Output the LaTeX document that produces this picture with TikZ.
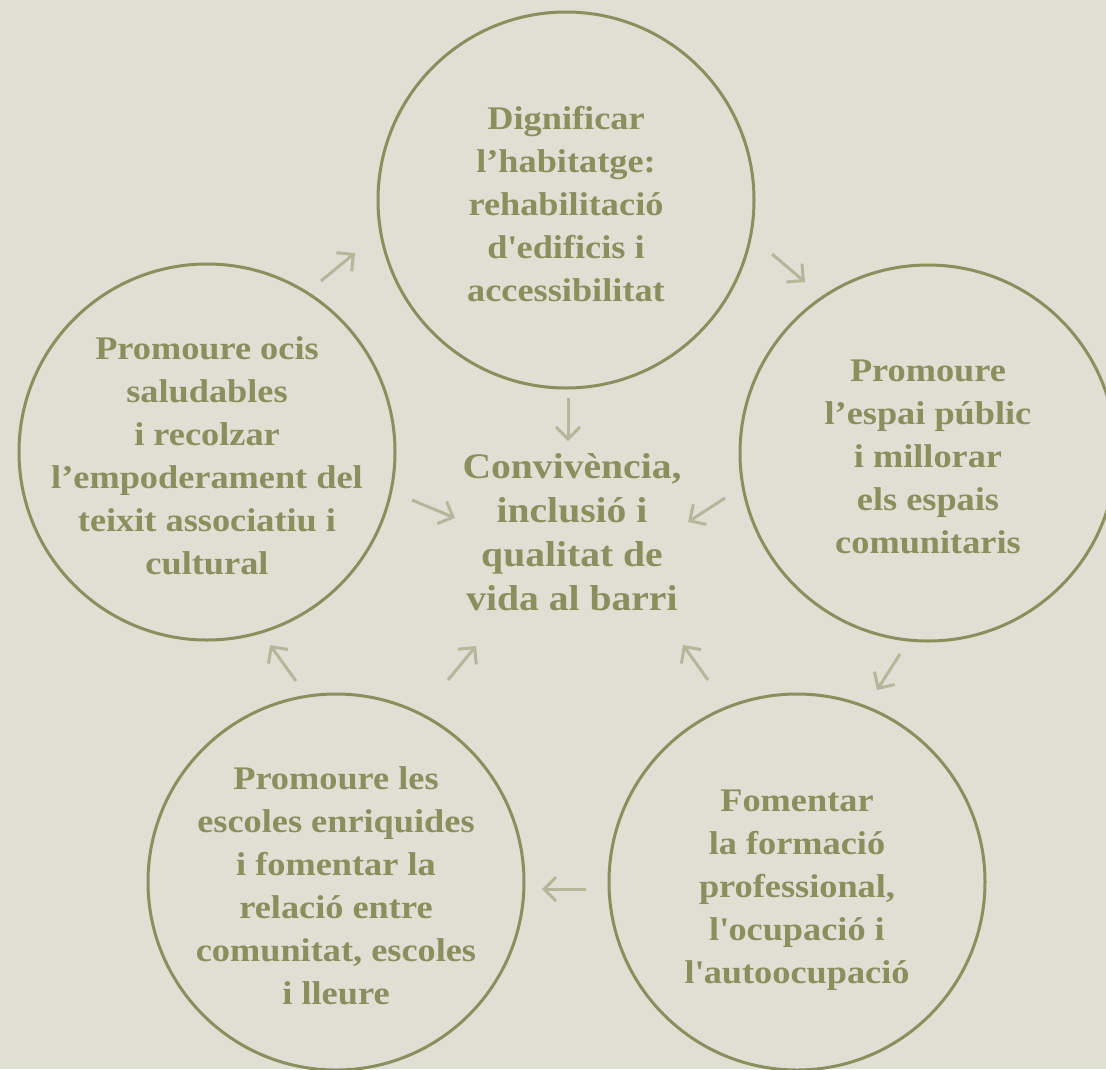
\documentclass[tikz,border=0pt]{standalone}
\usepackage{fontspec}
\usepackage{tikz}
\usetikzlibrary{arrows.meta,positioning,calc}
\newfontfamily\diagfont{Liberation Serif}[FakeStretch=1.1]
\definecolor{bgsand}{HTML}{DFDFD3}
\definecolor{olive}{HTML}{8A8F5E}
\definecolor{paleolive}{HTML}{B4B79B}

\begin{document}
\begin{tikzpicture}[x=1pt,y=-1pt,
    goal/.style={circle,draw=olive,line width=3pt,minimum size=376pt,inner sep=0pt},
    goaltext/.style={text=olive,align=center,inner sep=0pt,yshift=-4pt,
      font=\diagfont\bfseries\fontsize{33}{43}\selectfont},
    core/.style={text=olive,align=center,font=\diagfont\bfseries\fontsize{36}{44}\selectfont},
    flow/.style={draw=paleolive,line width=3pt,-{Straight Barb[length=12pt,width=24pt]}}]
    \fill[bgsand] (0,0) rectangle (1106,1069);
    \useasboundingbox (0,0) rectangle (1106,1069);
    % the five circles
    \node[goal] (house) at (566,200) {};
    \node[goal] (leisure) at (207,452) {};
    \node[goal] (public) at (928,453) {};
    \node[goal] (school) at (336,882) {};
    \node[goal] (work) at (797,882) {};
    % their texts
    \node[goaltext] (house text) at (house) {Dignificar\\l’habitatge:\\rehabilitació\\d\textquotesingle edificis i\\accessibilitat};
    \node[goaltext] (leisure text) at (leisure) {Promoure ocis\\saludables\\i recolzar\\l’empoderament del\\teixit associatiu i\\cultural};
    \node[goaltext] (public text) at (public) {Promoure\\l’espai públic\\i millorar\\els espais\\comunitaris};
    \node[goaltext] (school text) at (school) {Promoure les\\escoles enriquides\\i fomentar la\\relació entre\\comunitat, escoles\\i lleure};
    \node[goaltext,yshift=-4pt] (work text) at (work) {Fomentar\\la formació\\professional,\\l\textquotesingle ocupació i\\l\textquotesingle autoocupació};
    \node[core] (centre) at (572,532) {Convivència,\\inclusió i\\qualitat de\\vida al barri};
    % arrow ends
    \coordinate (a1) at (321,281); \coordinate (b1) at (355,253);
    \coordinate (a2) at (772,254); \coordinate (b2) at (805,282);
    \coordinate (a3) at (568,398); \coordinate (b3) at (568,441);
    \coordinate (a4) at (412,500); \coordinate (b4) at (455,518);
    \coordinate (a5) at (725,498); \coordinate (b5) at (688,522);
    \coordinate (a6) at (900,654); \coordinate (b6) at (877,690);
    \coordinate (a7) at (586,889); \coordinate (b7) at (542,889);
    \coordinate (a8) at (296,681); \coordinate (b8) at (270,645);
    \coordinate (a9) at (448,680); \coordinate (b9) at (476,646);
    \coordinate (a10) at (708,680); \coordinate (b10) at (683,645);
    \foreach \i in {1,...,10}
        \draw[flow] (a\i) -- (b\i);
\end{tikzpicture}
\end{document}
